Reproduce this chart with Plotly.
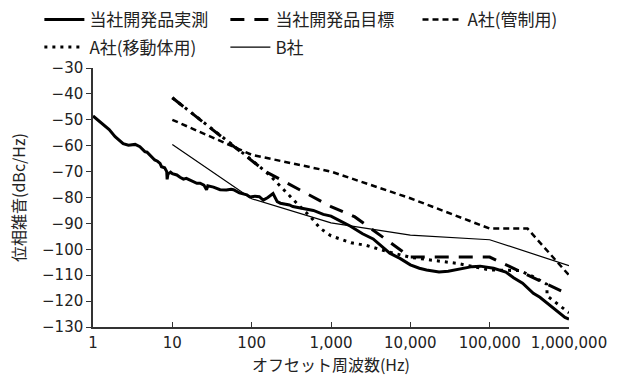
import plotly.graph_objects as go

# ---- data ----
meas_f = [1, 1.2, 1.4, 1.6, 1.9, 2.1, 2.4, 2.8, 3.4, 3.9, 4.5, 4.8, 5.2, 5.5, 6.0, 6.5, 7.0, 7.3, 8.0, 8.5, 8.6, 8.8,
          9.5, 10, 11.4, 12.5, 13.8, 15, 16.6, 18, 20.4, 22.4, 25, 27, 28, 33, 40, 48, 55, 59, 70, 87, 95, 110, 125,
          140, 160, 186, 200, 210, 230, 300, 330, 490, 600, 800, 1000, 1300, 1740, 2500, 3400, 5500, 7400, 10000,
          13000, 16000, 23000, 30000, 43000, 60000, 76000, 100000, 112000, 160000, 200000, 260000, 355000, 430000,
          575000, 630000, 890000, 1000000]
meas_db = [-48.5, -50.5, -52, -53.8, -56.5, -57.8, -59.2, -59.8, -59.5, -60.4, -62.3, -62.5, -63.6, -64.5, -65.5,
           -66, -66.8, -68.1, -68.5, -70, -73, -71, -70.2, -70.8, -71.3, -72.2, -72.9, -72.6, -73.2, -73.6, -74.5,
           -74.5, -75.2, -77, -75.5, -76, -77, -77.1, -76.8, -77, -78.2, -79, -79.8, -79.5, -79.7, -81, -80, -78.5,
           -80.5, -81.6, -82.2, -82.9, -83.5, -84.5, -85, -86.5, -87.2, -89, -91, -94, -96, -101.5, -103.5, -106,
           -107.3, -108, -108.8, -108.5, -107.5, -106.7, -106.5, -107, -107.3, -108.8, -111, -113.1, -117, -118.5,
           -121.5, -122.8, -126.3, -127]

target_f = [10, 150, 1000, 2000, 10000, 100000, 1000000]
target_db = [-41.5, -70, -83.5, -87.5, -103, -103, -117.5]

a_ctrl_f = [10, 100, 1000, 10000, 100000, 300000, 1000000]
a_ctrl_db = [-50, -63.5, -70, -80.3, -92, -92, -110]

a_mob_f = [10, 100, 170, 230, 280, 370, 550, 730, 1000, 1800, 2800, 5000, 10000, 20000, 40000, 100000, 240000,
           390000, 525000, 530000, 850000, 1000000]
a_mob_db = [-41.5, -65.5, -71.5, -75.8, -78.4, -82.2, -87.4, -91.9, -94.8, -97.5, -98.5, -100.8, -103.1, -104.3,
            -105.5, -108, -108.2, -111.2, -113.5, -118, -123, -124.5]

b_f = [10, 100, 1000, 10000, 100000, 1000000]
b_db = [-59.5, -80.5, -89.8, -94.5, -96.3, -106.3]

series_names = ["当社開発品実測", "当社開発品目標", "A社(管制用)", "A社(移動体用)", "B社"]

x_tickvals = [1, 10, 100, 1000, 10000, 100000, 1000000]
x_ticktext = ["1", "10", "100", "1,000", "10,000", "100,000", "1,000,000"]
y_tickvals = [-30, -40, -50, -60, -70, -80, -90, -100, -110, -120, -130]
y_ticktext = ["−30", "−40", "−50", "−60", "−70", "−80", "−90", "−100", "−110", "−120", "−130"]

FONT = "DejaVu Sans, Noto Sans CJK JP"
JP = "Noto Sans CJK JP"
TXT = "#222"

fig = go.Figure()
fig.add_trace(go.Scatter(x=meas_f, y=meas_db, mode="lines", name=series_names[0], legend="legend",
                         line=dict(color="black", width=3)))
fig.add_trace(go.Scatter(x=target_f, y=target_db, mode="lines", name=series_names[1], legend="legend",
                         line=dict(color="black", width=3, dash="14px,10px")))
fig.add_trace(go.Scatter(x=a_ctrl_f, y=a_ctrl_db, mode="lines", name=series_names[2], legend="legend2",
                         line=dict(color="black", width=2.5, dash="6px,4px")))
fig.add_trace(go.Scatter(x=a_mob_f, y=a_mob_db, mode="lines", name=series_names[3], legend="legend3",
                         line=dict(color="black", width=3, dash="3px,5px")))
fig.add_trace(go.Scatter(x=b_f, y=b_db, mode="lines", name=series_names[4], legend="legend3",
                         line=dict(color="black", width=1.2)))

leg_common = dict(orientation="h", xref="container", yref="container", xanchor="left", yanchor="middle",
                  entrywidth=131, entrywidthmode="pixels", itemwidth=40,
                  font=dict(size=17, family=JP, color=TXT), bgcolor="rgba(0,0,0,0)")

fig.update_layout(
    width=625, height=383,
    margin=dict(l=93, r=56, t=68, b=56, autoexpand=False),
    paper_bgcolor="white", plot_bgcolor="white",
    font=dict(family=FONT, size=15, color=TXT),
    showlegend=True,
    legend=dict(leg_common, x=0.063, y=0.948),
    legend2=dict(leg_common, x=0.668, y=0.948),
    legend3=dict(leg_common, x=0.063, y=0.876),
    xaxis=dict(type="log", range=[0, 6], tickvals=x_tickvals, ticktext=x_ticktext,
               ticks="inside", ticklen=5, tickcolor="#333", showline=True, linecolor="#333", linewidth=1.5,
               showgrid=False, zeroline=False, tickfont=dict(size=15, family="DejaVu Sans"),
               ticklabelstandoff=1,
               title=dict(text="オフセット周波数(Hz)", font=dict(size=16, family=JP), standoff=5)),
    yaxis=dict(range=[-130, -30], tickvals=y_tickvals, ticktext=y_ticktext,
               ticks="outside", ticklen=5, tickcolor="#333", showline=True, linecolor="#333", linewidth=1.5,
               showgrid=False, zeroline=False, tickfont=dict(size=15, family="DejaVu Sans"),
               title=dict(text="位相雑音(dBc/Hz)", font=dict(size=16, family=JP), standoff=12)),
)

fig.write_html("out.html", config={"displayModeBar": False},
               post_script="document.body.style.margin='0';")
